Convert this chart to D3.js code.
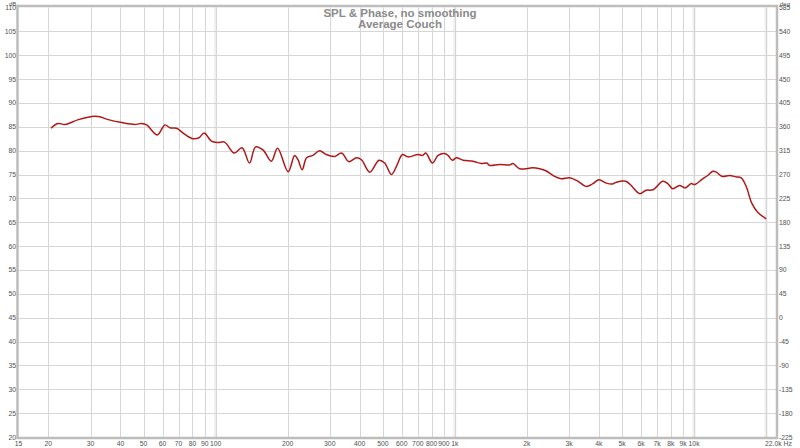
<!DOCTYPE html>
<html>
<head>
<meta charset="utf-8">
<script src="https://cdn.jsdelivr.net/npm/d3@7/dist/d3.min.js"></script>
<style>
html,body{margin:0;padding:0;background:#fff;}
svg{display:block;font-family:"Liberation Sans",Arial,sans-serif;}
</style>
</head>
<body>
<svg id="chart" width="800" height="448"></svg>
<script>
// ---- data ----
const freqs = [20.5,21.9,23.5,26.7,31.3,32.8,35.6,40.5,46,49,51.5,57,61.4,64.4,68.7,74.4,80.6,85.2,89.6,96,102,109,119.6,129,138.6,146.9,158,171,181.5,201,214,221,230,240,255,272,290,315,336,361,388,407,441,482,509,543,570,604,638,702,732,756,806,851,907,936,977,1014,1082,1191,1291,1360,1400,1539,1695,1750,1866,2119,2260,2400,2613,2786,3018,3268,3543,3777,4002,4296,4551,4733,5177,5409,5918,6310,6731,7404,7764,8146,8691,9180,9729,10044,10866,11410,11970,12380,13110,14063,15000,15737,16514,17420,18450,20027];
const spl = [84.7,85.7,85.5,86.5,87.2,87.1,86.5,85.9,85.5,85.7,85.4,83.3,85.4,84.8,84.7,83.4,82.5,82.7,83.7,82.0,81.7,81.8,79.5,80.6,77.4,80.8,80.1,77.8,80.5,75.6,79.0,78.1,76.0,78.5,79.0,80.0,79.2,78.8,79.5,77.7,78.5,78.1,75.5,78.0,77.4,75.0,76.7,79.2,78.7,79.2,79.0,79.5,77.4,79.0,79.4,79.0,78.0,78.5,78.0,77.8,77.3,77.4,76.9,77.1,77.0,77.3,76.2,76.4,76.2,75.8,74.6,74.1,74.3,73.6,72.5,73.1,73.9,73.2,73.0,73.4,73.6,72.9,71.0,71.7,71.8,73.6,73.1,72.0,72.7,72.2,73.1,72.9,74.1,74.8,75.7,75.5,74.6,74.8,74.5,74.3,72.5,69.0,67.1,65.7];
const xTickValues = [15,20,30,40,50,60,70,80,90,100,200,300,400,500,600,700,800,900,1000,2000,3000,4000,5000,6000,7000,8000,9000,10000];
const xTickLabels = ["15","20","30","40","50","60","70","80","90","100","200","300","400","500","600","700","800","900","1k","2k","3k","4k","5k","6k","7k","8k","9k","10k"];
const xGridValues = [20,30,40,50,60,70,80,90,100,200,300,400,500,600,700,800,900,1000,2000,3000,4000,5000,6000,7000,8000,9000,10000,20000];
const xDecades = [100,1000,10000,20000];
const dbTicks = [20,25,30,35,40,45,50,55,60,65,70,75,80,85,90,95,100,105,110];
const degTicks = [-225,-180,-135,-90,-45,0,45,90,135,180,225,270,315,360,405,450,495,540,585];
const titleLines = ["SPL & Phase, no smoothing","Average Couch"];

// ---- layout ----
const L = 18.5, R = 776, T = 7.5, B = 437;
const svg = d3.select("#chart");
const x = d3.scaleLog().domain([15,22000]).range([L,R]);
const yL = d3.scaleLinear().domain([20,110]).range([B,T]);
const yR = d3.scaleLinear().domain([-225,585]).range([B,T]);

// grid
const g = svg.append("g");
g.selectAll("line.vd").data(xDecades).join("line")
  .attr("x1",d=>x(d)).attr("x2",d=>x(d)).attr("y1",T).attr("y2",B)
  .attr("stroke","#eeeeee").attr("stroke-width",3);
g.selectAll("line.h").data(dbTicks.filter(d=>d>20&&d<110)).join("line")
  .attr("x1",L).attr("x2",R).attr("y1",d=>Math.round(yL(d))+0.5).attr("y2",d=>Math.round(yL(d))+0.5)
  .attr("stroke","#d6d6d6").attr("stroke-width",1);
g.selectAll("line.v").data(xGridValues).join("line")
  .attr("x1",d=>Math.round(x(d))+0.5).attr("x2",d=>Math.round(x(d))+0.5).attr("y1",T).attr("y2",B)
  .attr("stroke","#d6d6d6").attr("stroke-width",1);

// frame
svg.append("rect").attr("x",L-1).attr("y",T-1.5).attr("width",R-L+2).attr("height",B-T+2.5)
  .attr("fill","none").attr("stroke","#bdbdbd").attr("stroke-width",2.5);

// axes labels
const lab = svg.append("g").attr("font-size",6.8).attr("fill","#505050");
lab.selectAll("text.l").data(dbTicks).join("text")
  .attr("x",16).attr("y",d=>yL(d)+2.5).attr("text-anchor","end").text(d=>d);
lab.selectAll("text.r").data(degTicks).join("text")
  .attr("x",779).attr("y",d=>yR(d)+2.5).attr("text-anchor","start").text(d=>d);
lab.selectAll("text.x").data(xTickValues).join("text")
  .attr("x",d=>x(d)).attr("y",446).attr("text-anchor","middle").text((d,i)=>xTickLabels[i]);
lab.append("text").attr("x",765).attr("y",446).attr("text-anchor","start").text("22.0k Hz");
lab.append("text").attr("x",9).attr("y",5.6).attr("font-size",6).text("dB");
lab.append("text").attr("x",780).attr("y",5.6).attr("font-size",6).text("deg");

// title
svg.selectAll("text.title").data(titleLines).join("text")
  .attr("x",400).attr("y",(d,i)=>17+i*11).attr("text-anchor","middle")
  .attr("font-size",11.5).attr("font-weight","bold").attr("fill","#8a8a8a").text(d=>d);

// curve
const line = d3.line().x(d=>x(d[0])).y(d=>yL(d[1])).curve(d3.curveCatmullRom.alpha(0.5));
svg.append("path").datum(freqs.map((f,i)=>[f,spl[i]]))
  .attr("d",line).attr("fill","none").attr("stroke","#b01818").attr("stroke-width",1.5);
</script>
</body>
</html>
